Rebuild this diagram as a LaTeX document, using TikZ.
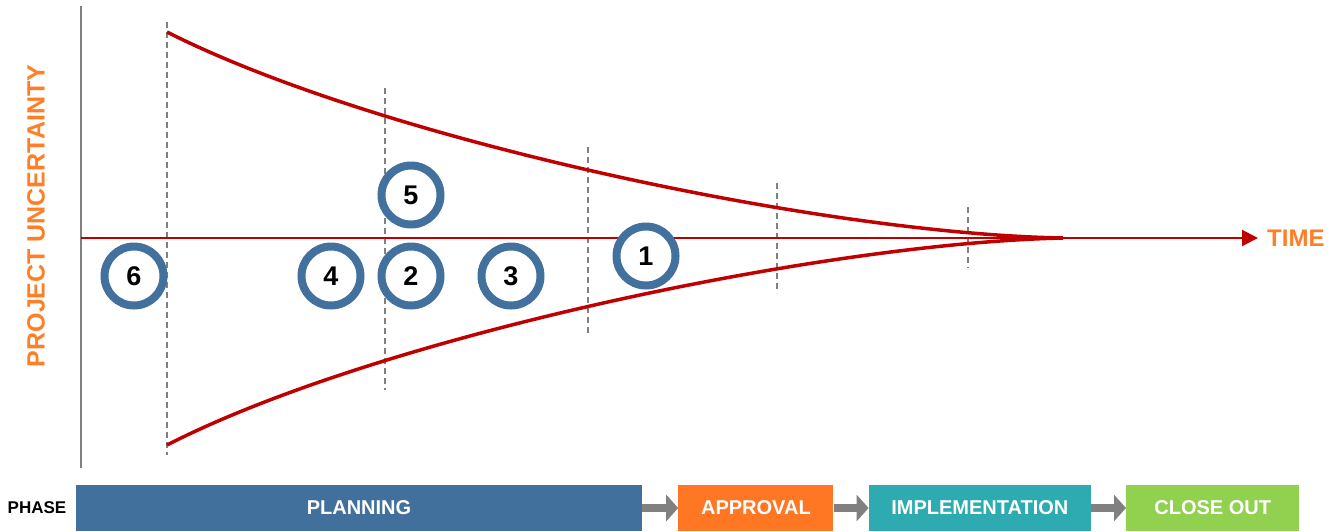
\documentclass[tikz,border=0pt]{standalone}
\usepackage{fontspec}
\setmainfont{Liberation Sans}
\usepackage{tikz}
\usetikzlibrary{arrows.meta, positioning}
\definecolor{ringblue}{HTML}{41719C}
\definecolor{planblue}{HTML}{41709C}
\definecolor{apporange}{HTML}{FF7722}
\definecolor{labelorange}{HTML}{FF7F27}
\definecolor{implteal}{HTML}{2EABB0}
\definecolor{closegreen}{HTML}{92D050}
\definecolor{funnelred}{HTML}{C00000}
\definecolor{guidegray}{HTML}{808080}
\tikzstyle{ring} = [circle, draw=ringblue, line width=8pt, fill=white, minimum size=59pt, inner sep=0pt, font=\fontsize{27}{27}\selectfont\bfseries]
\tikzstyle{phasebox} = [rectangle, minimum height=46pt, inner sep=0pt, text=white, font=\fontsize{20}{20}\selectfont\bfseries]
\tikzstyle{guide} = [draw=guidegray, line width=1.5pt, dash pattern=on 6pt off 4pt]
\tikzstyle{funnel} = [draw=funnelred, line width=3.5pt]
\tikzstyle{phasearrow} = [draw=guidegray, line width=8pt, -{Triangle[length=12pt, width=26pt]}]

\begin{document}
\begin{tikzpicture}[x=1pt, y=-1pt]
  \useasboundingbox (0,0) rectangle (1336,531);
  % axes
  \coordinate (top) at (81,6);
  \coordinate (bottom) at (81,468);
  \coordinate (origin) at (81,238);
  \coordinate (tip) at (1063,238);
  \coordinate (arrowend) at (1258,238);
  \draw[guidegray, line width=2pt] (top) -- (bottom);
  \node[anchor=west, text=labelorange, font=\fontsize{24}{24}\selectfont\bfseries, inner sep=0pt] (time) at (1267,238) {TIME};
  \node[rotate=90, text=labelorange, font=\fontsize{25}{25}\selectfont\bfseries, inner sep=0pt] (uncert) at (36,216) {PROJECT UNCERTAINTY};
  % guides
  \draw[guide] (167,22) -- (167,455);
  \draw[guide] (385,88) -- (385,390);
  \draw[guide] (588,147) -- (588,333);
  \draw[guide] (777,183) -- (777,293);
  \draw[guide] (968,207) -- (968,268);
  % funnel
  \draw[funnel] (167,32) .. controls (380,140) and (825,234) .. (tip);
  \draw[funnel] (167,445) .. controls (380,336) and (825,243) .. (tip);
  \draw[funnelred, line width=2pt, -{Triangle[length=16pt, width=16pt]}] (origin) -- (arrowend);
  % rings
  \node[ring] (r6) at (134,276) {6};
  \node[ring] (r4) at (331,276) {4};
  \node[ring] (r2) at (411,276) {2};
  \node[ring] (r3) at (511,276) {3};
  \node[ring] (r5) at (411,195) {5};
  \node[ring] (r1) at (646,256) {1};
  % phases
  \node[font=\fontsize{17}{17}\selectfont\bfseries, inner sep=0pt] (phase) at (37,508) {PHASE};
  \node[phasebox, fill=planblue, minimum width=566pt] (planning) at (359,508) {PLANNING};
  \node[phasebox, fill=apporange, minimum width=155pt, right=36pt of planning] (approval) {APPROVAL};
  \node[phasebox, fill=implteal, minimum width=222pt, right=35pt of approval] (impl) {IMPLEMENTATION};
  \node[phasebox, fill=closegreen, minimum width=173pt, right=35pt of impl] (close) {CLOSE OUT};
  \draw[phasearrow] (planning) -- (approval);
  \draw[phasearrow] (approval) -- (impl);
  \draw[phasearrow] (impl) -- (close);
\end{tikzpicture}
\end{document}
